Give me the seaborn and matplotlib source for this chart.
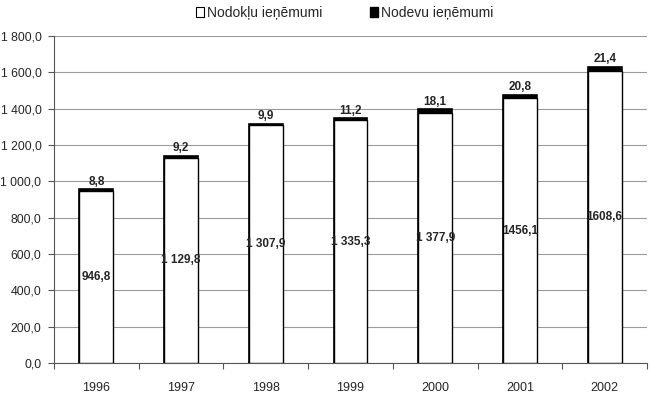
import matplotlib
matplotlib.use("Agg")
import matplotlib.pyplot as plt
import seaborn as sns
import pandas as pd
from matplotlib.ticker import FuncFormatter, FixedLocator
from matplotlib.patches import Patch

years = ["1996", "1997", "1998", "1999", "2000", "2001", "2002"]
nodokli = [946.8, 1129.8, 1307.9, 1335.3, 1377.9, 1456.1, 1608.6]
nodevas = [8.8, 9.2, 9.9, 11.2, 18.1, 20.8, 21.4]
nodokli_labels = ["946,8", "1 129,8", "1 307,9", "1 335,3", "1 377,9", "1456,1", "1608,6"]
nodevas_labels = ["8,8", "9,2", "9,9", "11,2", "18,1", "20,8", "21,4"]
series_names = ["Nodokļu ieņēmumi", "Nodevu ieņēmumi"]

sns.set_theme(style="white")
plt.rcParams["font.family"] = ["Liberation Sans", "DejaVu Sans"]

df = pd.DataFrame({"year": years, "nodokli": nodokli, "nodevas": nodevas})
df["total"] = df["nodokli"] + df["nodevas"]

fig = plt.figure(figsize=(6.5, 3.95), dpi=100)
ax = fig.add_axes([54 / 650, 1 - 363 / 395, 593 / 650, 327 / 395])

sns.barplot(data=df, x="year", y="total", color="black", width=0.4,
            edgecolor="black", linewidth=1.2, saturation=1, ax=ax, zorder=3)
sns.barplot(data=df, x="year", y="nodokli", color="white", width=0.4,
            edgecolor="black", linewidth=1.0, saturation=1, ax=ax, zorder=4)

ax.set_ylim(0, 1800)
ax.set_xlim(-0.5, len(years) - 0.5)
ax.yaxis.set_major_locator(FixedLocator(range(0, 1801, 200)))
ax.yaxis.set_major_formatter(FuncFormatter(
    lambda v, p: f"{v:,.1f}".replace(",", " ").replace(".", ",")))
ax.grid(axis="y", color="#9a9a9a", linewidth=0.8, zorder=0)
ax.set_axisbelow(True)
for s in ["top", "right"]:
    ax.spines[s].set_visible(False)
ax.spines["left"].set_color("#555555")
ax.spines["bottom"].set_color("#555555")
ax.spines["left"].set_linewidth(0.8)
ax.spines["bottom"].set_linewidth(0.8)
ax.set_xlabel("")
ax.set_ylabel("")
ax.tick_params(axis="y", left=True, length=4, width=0.8, color="#555555",
               labelsize=8.8, pad=5)
ax.tick_params(axis="x", bottom=False, labelsize=9, pad=8)
ax.set_xticks([i + 0.5 for i in range(-1, len(years))], minor=True)
ax.tick_params(axis="x", which="minor", bottom=True, length=4, width=0.8,
               color="#555555")

for i in range(len(years)):
    ax.text(i, nodokli[i] / 2, nodokli_labels[i], ha="center", va="center",
            fontsize=8.5, fontweight="bold", zorder=6)
    ax.text(i, nodokli[i] + nodevas[i] + 10, nodevas_labels[i], ha="center",
            va="bottom", fontsize=8.5, fontweight="bold", zorder=6)

handles = [Patch(facecolor="white", edgecolor="black", linewidth=0.8),
           Patch(facecolor="black", edgecolor="black")]
fig.legend(handles, series_names, loc="center", bbox_to_anchor=(0.53, 0.967),
           ncol=2, frameon=False, fontsize=10, handlelength=0.6,
           handleheight=0.7, handletextpad=0.2, columnspacing=3.4)

fig.savefig("out.png", dpi=100)
